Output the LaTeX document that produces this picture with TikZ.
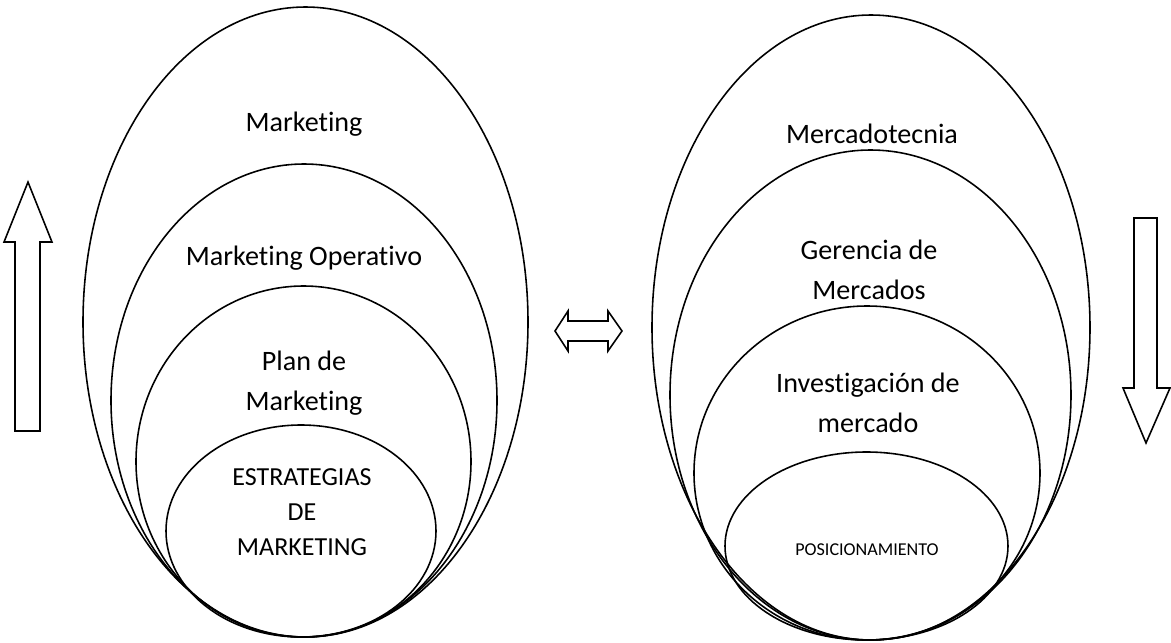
\documentclass[tikz,border=0pt]{standalone}
\usepackage{fontspec}
\setmainfont{Carlito}[Ligatures=NoCommon]
\usepackage{tikz}
\usetikzlibrary{positioning}

\begin{document}
\begin{tikzpicture}[x=0.02cm, y=-0.02cm,
    oval/.style={draw, line width=0.9pt},
    ovaltext/.style={align=center, inner sep=0pt, font=\fontsize{16}{22.5}\selectfont},
    capstext/.style={align=center, inner sep=0pt, font=\fontsize{14.8}{20}\selectfont},
    blockarrow/.style={draw, line width=0.9pt, line join=miter, fill=white}
]
\useasboundingbox (0,0) rectangle (1171,643);

% LEFT OVALS
\draw[oval] (305.5,322) ellipse [x radius=222.5, y radius=315];
\draw[oval] (304,400.5) ellipse [x radius=193, y radius=236.5];
\draw[oval] (303.5,461.5) ellipse [x radius=167.5, y radius=175.5];
\draw[oval] (301,531) ellipse [x radius=135, y radius=106];

\node[ovaltext] (mkt) at (304,124) {Marketing};
\node[ovaltext] (mktop) at (304,258) {Marketing Operativo};
\node[ovaltext] (plan) at (304,383) {Plan de\\Marketing};
\node[capstext] (estrat) at (302,512) {ESTRATEGIAS\\DE\\MARKETING};

% RIGHT OVALS
\draw[oval] (871,327.5) ellipse [x radius=219, y radius=312.5];
\draw[oval] (870.5,395) ellipse [x radius=200.5, y radius=245];
\draw[oval] (867,473) ellipse [x radius=173, y radius=167];
\draw[oval] (866.5,546) ellipse [x radius=141.5, y radius=94];

\node[ovaltext] (merca) at (872,134) {Mercadotecnia};
\node[ovaltext] (geren) at (869,270) {Gerencia de\\Mercados};
\node[ovaltext] (invest) at (868,403) {Investigación de\\mercado};
\node[capstext, font=\fontsize{10.3}{12}\selectfont] (posic) at (867,550) {POSICIONAMIENTO};

% BLOCK ARROWS
\draw[blockarrow] (28,182) -- (52,242) -- (40,242) -- (40,431) -- (15,431) -- (15,242) -- (4,242) -- cycle;
\draw[blockarrow] (555,331) -- (568,311) -- (568,321) -- (608,321) -- (608,311) -- (622,331)
    -- (608,351) -- (608,341) -- (568,341) -- (568,351) -- cycle;
\draw[blockarrow] (1134,218) -- (1157,218) -- (1157,388) -- (1170,388) -- (1146,443) -- (1123,388) -- (1134,388) -- cycle;

\end{tikzpicture}
\end{document}
